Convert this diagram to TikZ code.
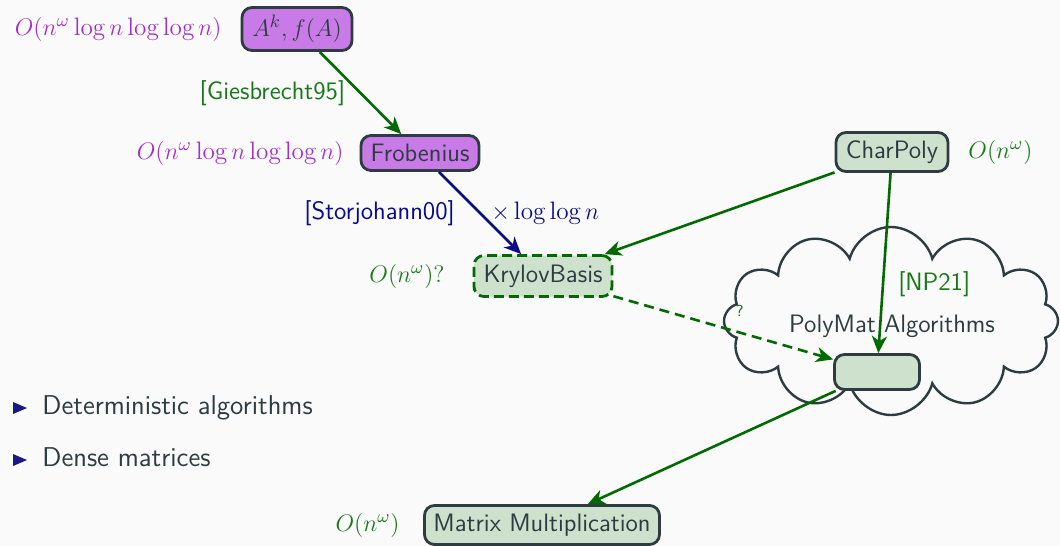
\documentclass[tikz,border=0pt]{standalone}
\usepackage{fontspec}
\usetikzlibrary{shapes.symbols,arrows.meta}
\definecolor{bg}{RGB}{250,250,250}
\definecolor{purfill}{RGB}{200,122,230}
\definecolor{purtext}{RGB}{165,45,205}
\definecolor{gfill}{RGB}{206,225,204}
\definecolor{bord}{RGB}{45,60,65}
\definecolor{dgreen}{RGB}{0,105,0}
\definecolor{tgreen}{RGB}{25,120,25}
\definecolor{navy}{RGB}{10,10,140}
\definecolor{bullet}{RGB}{25,25,130}
\begin{document}
\begin{tikzpicture}[x=0.5pt,y=-0.5pt,
  font=\sffamily\fontsize{12.6}{15}\selectfont,
  box/.style={draw=bord, line width=1.4pt, rounded corners=5pt, text=bord, inner sep=0pt},
  pbox/.style={box, fill=purfill},
  gbox/.style={box, fill=gfill},
  lbl/.style={inner sep=0pt},
  arr/.style={line width=1.3pt, -{Stealth[length=8.5pt,width=7.5pt,inset=2.5pt]}},
  bul/.style={inner sep=0pt, anchor=base west, text=bord, font=\sffamily\fontsize{13.6}{16}\selectfont}]
\fill[bg] (0,0) rectangle (1060,546);
\useasboundingbox (0,0) rectangle (1060,546);

% cloud
\node[cloud, draw=bord, line width=1.2pt, cloud puffs=12, minimum width=167pt, minimum height=94pt, inner sep=0pt] (cloud) at (891,321) {};
\node[lbl, text=bord] (pmtext) at (892,326) {PolyMat Algorithms};

% boxes
\node[pbox, minimum width=55pt, minimum height=21.5pt] (ak) at (297,29) {$A^k, f(A)$};
\node[pbox, minimum width=59pt, minimum height=17.5pt] (frob) at (420,153) {Frobenius};
\node[gbox, minimum width=56pt, minimum height=19.5pt] (cp) at (892,152) {CharPoly};
\node[gbox, draw=dgreen, dash pattern=on 5pt off 2.5pt, minimum width=69pt, minimum height=20.5pt] (kb) at (543,276) {KrylovBasis};
\node[gbox, minimum width=42.5pt, minimum height=17.5pt] (pmbox) at (877,372) {};
\node[gbox, minimum width=117.5pt, minimum height=19.5pt] (mm) at (542,525) {Matrix Multiplication};

% complexity labels
\node[lbl, anchor=east, text=purtext] (cak) at (222,29) {$O(n^\omega\log n\log\log n)$};
\node[lbl, anchor=east, text=purtext] (cfrob) at (344,153) {$O(n^\omega\log n\log\log n)$};
\node[lbl, anchor=west, text=tgreen] (ccp) at (968,152) {$O(n^\omega)$};
\node[lbl, anchor=east, text=tgreen] (ckb) at (445,276) {$O(n^\omega)?$};
\node[lbl, anchor=east, text=tgreen] (cmm) at (400,525) {$O(n^\omega)$};

% connectors
\draw[arr, dgreen] (ak) -- node[lbl, pos=0.5, anchor=east, xshift=-7pt, text=tgreen] {[Giesbrecht95]} (frob);
\draw[arr, navy] (frob) -- node[lbl, pos=0.5, anchor=east, xshift=-12pt, text=navy] {[Storjohann00]}
  node[lbl, pos=0.5, anchor=west, xshift=5pt, text=navy] {$\times\log\log n$} (kb);
\draw[arr, dgreen] (cp) -- (kb);
\draw[arr, dgreen] (cp) -- node[lbl, pos=0.62, anchor=west, xshift=7pt, text=tgreen] {[NP21]} (pmbox);
\draw[arr, dgreen, dash pattern=on 5pt off 3pt] (kb) -- node[lbl, pos=0.575, yshift=11pt, text=tgreen, font=\sffamily\fontsize{8}{9}\selectfont] {?} (pmbox);
\draw[arr, dgreen] (pmbox) -- (mm);

% bullets
\fill[bullet] (13,402) -- (27,408) -- (13,414) -- cycle;
\node[bul] (b1) at (42,414) {Deterministic algorithms};
\fill[bullet] (13,454) -- (27,460) -- (13,466) -- cycle;
\node[bul] (b2) at (42,466) {Dense matrices};
\end{tikzpicture}
\end{document}
